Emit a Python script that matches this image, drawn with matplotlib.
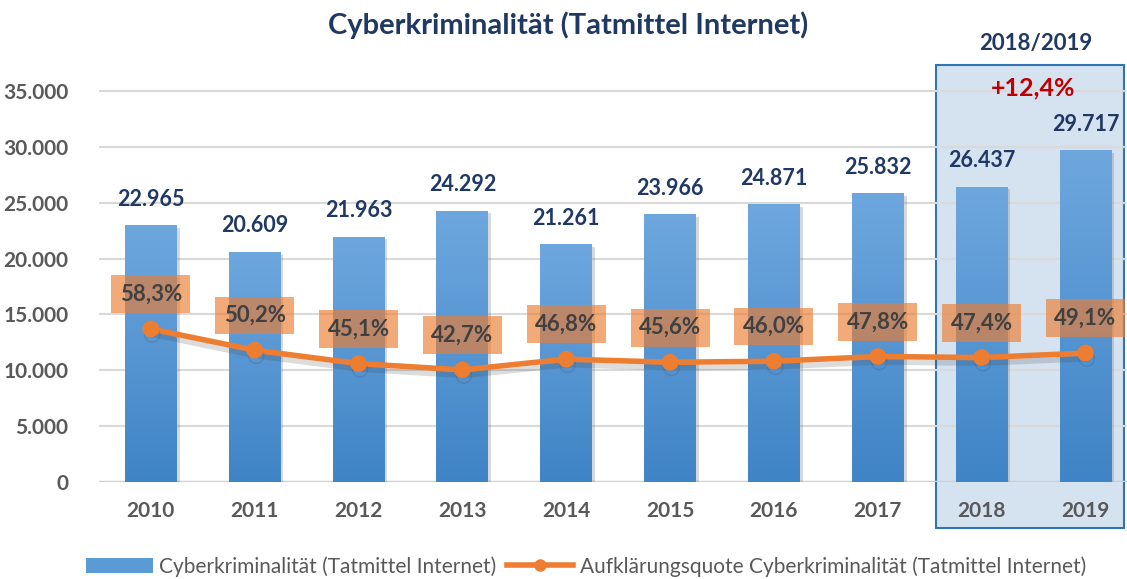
import numpy as np
import matplotlib
matplotlib.use("Agg")
import matplotlib.pyplot as plt
import matplotlib.patheffects as pe
from matplotlib.patches import Rectangle, Patch
from matplotlib.lines import Line2D
from matplotlib.colors import LinearSegmentedColormap

plt.rcParams['font.family'] = ['Lato', 'DejaVu Sans']

# data
years = ["2010", "2011", "2012", "2013", "2014", "2015", "2016", "2017", "2018", "2019"]
cases = [22965, 20609, 21963, 24292, 21261, 23966, 24871, 25832, 26437, 29717]
clearance = [58.3, 50.2, 45.1, 42.7, 46.8, 45.6, 46.0, 47.8, 47.4, 49.1]
yticks = [0, 5000, 10000, 15000, 20000, 25000, 30000, 35000]
title = "Cyberkriminalität (Tatmittel Internet)"
bar_label = "Cyberkriminalität (Tatmittel Internet)"
line_label = "Aufklärungsquote Cyberkriminalität (Tatmittel Internet)"
box_title = "2018/2019"
box_change = "+12,4%"

navy = "#1f3864"
grey = "#595959"
orange = "#ed7d31"
blue = "#5b9bd5"

fig = plt.figure(figsize=(11.27, 5.79), dpi=100)
ax = fig.add_axes([0.0878, 0.1675, 0.9122, 0.714])
ax.patch.set_visible(False)

# highlight box for 2018/2019 (behind the axes)
hl = Rectangle((0.8305, 0.0881), 0.167, 0.8, transform=fig.transFigure,
               facecolor="#d5e2f0", edgecolor="#2e75b6", linewidth=1.5, zorder=-5)
fig.patches.append(hl)

x = np.arange(len(years))
ymax = 37000

bars = ax.bar(x, cases, width=0.5, color=blue, zorder=2)
# gradient fill + soft shadow
cmap = LinearSegmentedColormap.from_list("g", ["#3f84c6", "#6ea7de"])
grad = np.linspace(0, 1, 256).reshape(-1, 1)
for b in bars:
    b.set_path_effects([pe.SimplePatchShadow(offset=(2, -2), shadow_rgbFace="#7f7f7f", alpha=0.3), pe.Normal()])
    x0, w, h = b.get_x(), b.get_width(), b.get_height()
    im = ax.imshow(grad, extent=[x0, x0 + w, 0, h], origin="lower", cmap=cmap,
                   aspect="auto", zorder=2.1)
    im.set_clip_path(b)
ax.set_xlim(-0.5, 9.4)
ax.set_ylim(0, ymax)

for xi, v in zip(x, cases):
    ax.annotate(f"{v:,}".replace(",", "."), (xi, v), xytext=(0, 11), textcoords="offset points",
                ha="center", va="bottom", fontsize=15.5, fontweight="bold", color=navy, zorder=6)

ax.set_yticks(yticks)
ax.set_yticklabels([f"{t:,}".replace(",", ".") for t in yticks])
ax.set_xticks(x)
ax.set_xticklabels(years)
ax.tick_params(length=0, labelsize=15, labelcolor=grey)
ax.tick_params(axis="x", pad=14)
ax.tick_params(axis="y", pad=22)
for lab in ax.get_xticklabels() + ax.get_yticklabels():
    lab.set_fontweight("bold")
ax.grid(axis="y", color="#d9d9d9", linewidth=1.5, zorder=0)
ax.set_axisbelow(True)
for s in ax.spines.values():
    s.set_visible(False)
ax.axhline(0, color="#d0d0d0", linewidth=2.5, zorder=1)

# clearance rate on hidden secondary axis
ax2 = ax.twinx()
ax2.set_ylim(0, ymax / 235)
ax2.axis("off")
ax2.plot(x, clearance, color=orange, linewidth=4, marker="o", markersize=11, zorder=4,
         path_effects=[pe.SimpleLineShadow(offset=(1, -4), shadow_color="#404040", alpha=0.18), pe.Normal()])
for xi, p in zip(x, clearance):
    ax2.annotate(f"{p:.1f}%".replace(".", ","), (xi, p), xytext=(0, 25), textcoords="offset points",
                 ha="center", va="center", fontsize=16, fontweight="bold", color="#404040", zorder=6,
                 bbox=dict(boxstyle="square,pad=0.38", facecolor=orange, edgecolor="none", alpha=0.65))

fig.text(0.504, 0.957, title, ha="center", va="center", fontsize=21, fontweight="bold", color=navy)
fig.text(0.919, 0.925, box_title, ha="center", va="center", fontsize=16, fontweight="bold", color=navy)
fig.text(0.917, 0.848, box_change, ha="center", va="center", fontsize=18, fontweight="bold", color="#c00000")

handles = [Patch(facecolor=blue, edgecolor="none"),
           Line2D([0], [0], color=orange, linewidth=4, marker="o", markersize=8)]
fig.legend(handles, [bar_label, line_label], loc="center", bbox_to_anchor=(0.52, 0.022),
           ncol=2, frameon=False, fontsize=15, labelcolor=grey, handlelength=3.2,
           columnspacing=0.5, handletextpad=0.3)

fig.savefig("out.png", dpi=100)
